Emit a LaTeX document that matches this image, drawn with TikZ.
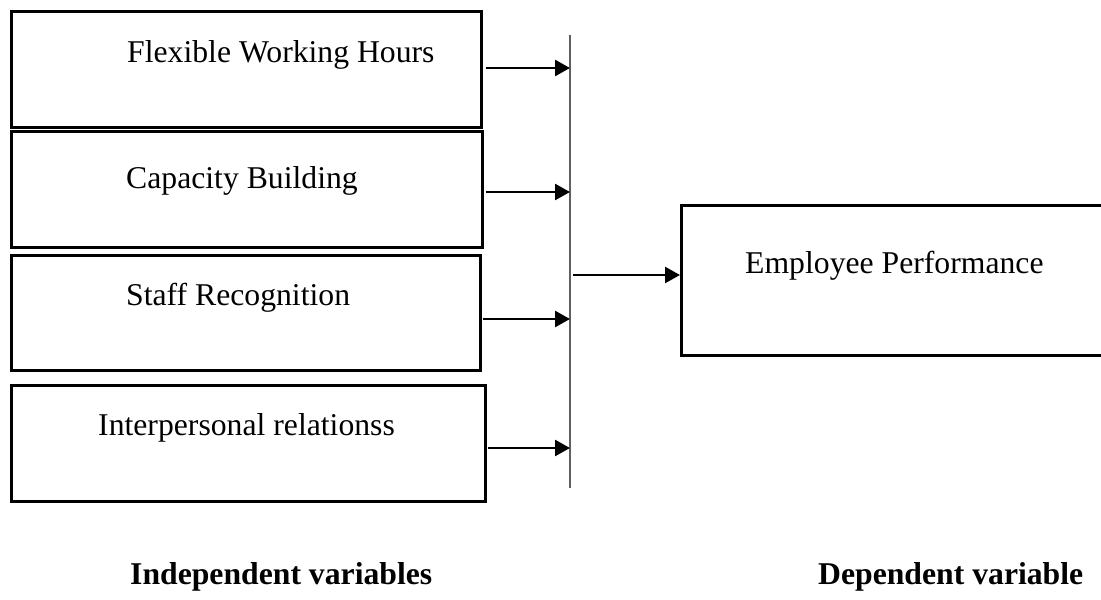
\documentclass[tikz,border=0pt]{standalone}
\usepackage{fontspec}
\setmainfont{Liberation Serif}
\usetikzlibrary{arrows.meta}
\definecolor{busgray}{RGB}{95,95,95}
\tikzset{
  box/.style={draw=black, line width=2.6pt, rectangle, inner sep=0pt, anchor=north west},
  lbl/.style={anchor=base west, inner sep=0pt, font=\fontsize{31.7}{38}\selectfont},
  foot/.style={anchor=base west, inner sep=0pt, font=\fontsize{31.7}{38}\selectfont\bfseries},
  arr/.style={draw=black, line width=2.6pt, -{Triangle[length=15pt,width=16pt]}},
  bus/.style={draw=busgray, line width=1.8pt}
}
\begin{document}
\begin{tikzpicture}[x=1pt,y=-1pt]
\useasboundingbox (0,0) rectangle (1101,600);
% independent variable boxes
\node[box, minimum width=470pt, minimum height=116pt] (b1) at (10,10) {};
\node[box, minimum width=471pt, minimum height=116pt] (b2) at (10,130) {};
\node[box, minimum width=469pt, minimum height=115pt] (b3) at (10,254) {};
\node[box, minimum width=474pt, minimum height=116pt] (b4) at (10,384) {};
% dependent variable box
\node[box, minimum width=421pt, minimum height=150pt] (ep) at (680,204) {};
% texts
\node[lbl] (t1) at (127,62) {Flexible Working Hours};
\node[lbl] (t2) at (126,188) {Capacity Building};
\node[lbl] (t3) at (126,305) {Staff Recognition};
\node[lbl] (t4) at (98,435) {Interpersonal relationss};
\node[lbl] (t5) at (745,273) {Employee Performance};
\node[foot] (f1) at (130,584) {Independent variables};
\node[foot] (f2) at (818,584) {Dependent variable};
% bus line
\coordinate (bt) at (570,35);
\coordinate (bb) at (570,488);
\draw[bus] (bt) -- (bb);
% arrow end points on the bus
\coordinate (e1) at (570,68);
\coordinate (e2) at (570,192);
\coordinate (e3) at (570,319);
\coordinate (e4) at (570,448);
\coordinate (m) at (573,275);
\draw[arr] ([xshift=3pt]b1.east |- e1) -- (e1);
\draw[arr] ([xshift=2pt]b2.east |- e2) -- (e2);
\draw[arr] ([xshift=1pt]b3.east |- e3) -- (e3);
\draw[arr] ([xshift=1pt]b4.east |- e4) -- (e4);
\draw[arr] (m) -- (ep.west |- m);
\end{tikzpicture}
\end{document}
